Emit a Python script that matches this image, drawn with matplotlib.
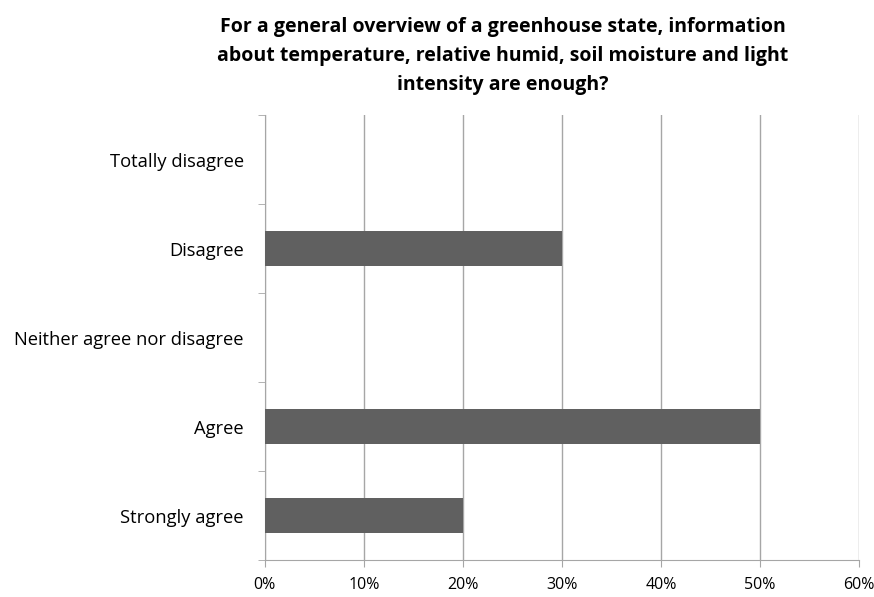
import matplotlib.pyplot as plt
import numpy as np
from matplotlib.ticker import FixedLocator, PercentFormatter

plt.rcParams["font.family"] = ["Open Sans", "DejaVu Sans"]

categories = ["Totally disagree", "Disagree", "Neither agree nor disagree", "Agree", "Strongly agree"]
shares = [0, 30, 0, 50, 20]
x_ticks = [0, 10, 20, 30, 40, 50, 60]
title = ("For a general overview of a greenhouse state, information\n"
         "about temperature, relative humid, soil moisture and light\n"
         "intensity are enough?")

GRAY = "#a6a6a6"
BAR = "#606060"

fig = plt.figure(figsize=(8.74, 5.97), dpi=100)
ax = fig.add_axes([0.303, 0.062, 0.68, 0.745])

y = np.arange(len(categories))[::-1]
ax.barh(y, shares, height=0.4, color=BAR, zorder=3)

ax.set_xlim(0, 60)
ax.set_ylim(-0.5, len(categories) - 0.5)
ax.set_xticks(x_ticks)
ax.xaxis.set_major_formatter(PercentFormatter(decimals=0))
ax.set_yticks(y)
ax.set_yticklabels(categories)
ax.yaxis.set_minor_locator(FixedLocator(np.arange(len(categories) + 1) - 0.5))

ax.tick_params(axis="y", which="major", length=0, pad=15, labelsize=13.2)
ax.tick_params(axis="y", which="minor", length=5, color=GRAY)
ax.tick_params(axis="x", length=5, color=GRAY, labelsize=11.5, pad=7)

ax.grid(axis="x", color=GRAY, linewidth=1, zorder=0)
for side in ["top", "right"]:
    ax.spines[side].set_visible(False)
for side in ["left", "bottom"]:
    ax.spines[side].set_color(GRAY)

fig.suptitle(title, x=0.575, fontsize=14, fontweight="bold", y=0.972, linespacing=1.6)

fig.savefig("out.png", dpi=100)
